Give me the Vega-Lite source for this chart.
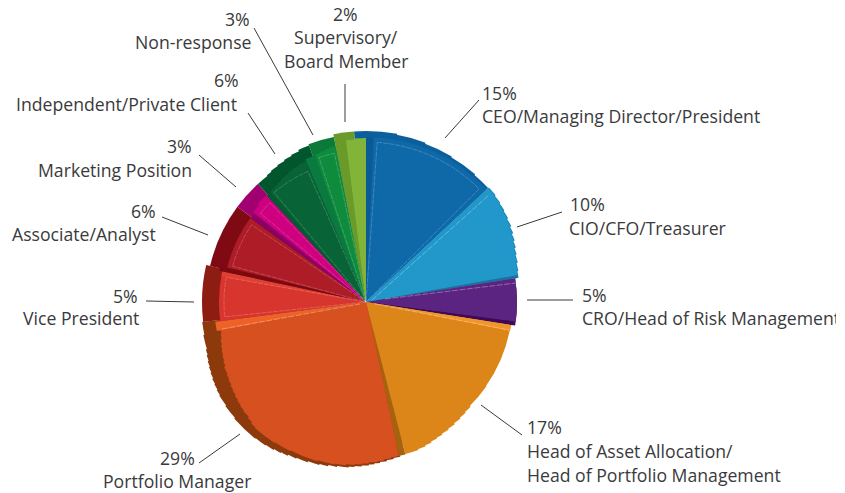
{
"$schema":"https://vega.github.io/schema/vega-lite/v6.json",
"width":836,"height":493,"padding":0,"autosize":{"type":"none"},"background":"white",
"config":{"view":{"stroke":null}},
"layer":[
{"data":{"values":[
{"part":"CEO back","start":356,"end":360,"r":171},
{"part":"CEO back","start":0,"end":10.5,"r":171},
{"part":"CEO back","start":10,"end":20.5,"r":170},
{"part":"CEO back","start":20,"end":30.5,"r":169},
{"part":"CEO back","start":30,"end":40.5,"r":168},
{"part":"CEO back","start":40,"end":47,"r":167},
{"part":"CIO back","start":47,"end":50.5,"r":168},
{"part":"CIO back","start":50,"end":53.5,"r":167},
{"part":"CIO back","start":53,"end":56.5,"r":166},
{"part":"CIO back","start":56,"end":59.5,"r":165},
{"part":"CIO back","start":59,"end":62.5,"r":163.8},
{"part":"CIO back","start":62,"end":65,"r":162.5},
{"part":"CIO back","start":64.5,"end":67.5,"r":161},
{"part":"CIO back","start":67,"end":70,"r":159.5},
{"part":"CIO back","start":69.5,"end":72.5,"r":158},
{"part":"CIO back","start":72,"end":75.5,"r":156.8},
{"part":"CIO back","start":75,"end":78.5,"r":155.5},
{"part":"CIO back","start":78,"end":81,"r":154.5},
{"part":"CRO side","start":81,"end":99,"r":151},
{"part":"Asset back","start":99,"end":168,"r":146},
{"part":"PM back","start":167.5,"end":170.5,"r":158.5},
{"part":"PM back","start":170,"end":173,"r":159.5},
{"part":"PM back","start":172.5,"end":175.5,"r":160.5},
{"part":"PM back","start":175,"end":177.5,"r":161.5},
{"part":"PM back","start":177,"end":179.5,"r":162.5},
{"part":"PM back","start":179,"end":182,"r":163.5},
{"part":"PM back","start":181.5,"end":184.5,"r":164.5},
{"part":"PM back","start":184,"end":186.5,"r":165.5},
{"part":"PM back","start":186,"end":190.5,"r":166.5},
{"part":"PM back","start":190,"end":193.5,"r":167.5},
{"part":"PM back","start":193,"end":196.5,"r":168.5},
{"part":"PM back","start":196,"end":200.5,"r":169.5},
{"part":"PM back","start":200,"end":204.5,"r":170.5},
{"part":"PM back","start":204,"end":207.5,"r":171.5},
{"part":"PM back","start":207,"end":210,"r":172.5},
{"part":"PM back","start":209.5,"end":212.5,"r":173.5},
{"part":"PM back","start":212,"end":215.5,"r":174.5},
{"part":"PM back","start":215,"end":219.5,"r":175.2},
{"part":"PM back","start":219,"end":228.5,"r":176},
{"part":"PM back","start":228,"end":233.5,"r":175},
{"part":"PM back","start":233,"end":237.5,"r":174},
{"part":"PM back","start":237,"end":239.5,"r":173.2},
{"part":"PM back","start":239,"end":241.5,"r":172.5},
{"part":"PM back","start":241,"end":243.5,"r":171.8},
{"part":"PM back","start":243,"end":245.5,"r":170.9},
{"part":"PM back","start":245,"end":247.5,"r":170},
{"part":"PM back","start":247,"end":249.5,"r":169},
{"part":"PM back","start":249,"end":251.5,"r":168},
{"part":"PM back","start":251,"end":253.5,"r":167},
{"part":"PM back","start":253,"end":258.5,"r":166},
{"part":"PM back","start":258,"end":263,"r":165},
{"part":"VP back","start":263,"end":283,"r":164},
{"part":"Analyst back","start":283,"end":306.5,"r":160},
{"part":"Marketing back","start":306.5,"end":317.5,"r":160},
{"part":"Indep back","start":317.5,"end":322.5,"r":160},
{"part":"Indep back","start":322,"end":324.5,"r":161},
{"part":"Indep back","start":324,"end":327.5,"r":162},
{"part":"Indep back","start":327,"end":330.5,"r":163},
{"part":"Indep back","start":330,"end":333.5,"r":164},
{"part":"Indep back","start":333,"end":336.5,"r":165},
{"part":"Indep back","start":336,"end":340,"r":166.5},
{"part":"Non back","start":340,"end":349,"r":168},
{"part":"Super back","start":349,"end":356,"r":171},
{"part":"CEO side","start":0,"end":2.7,"r":165},
{"part":"CEO face","start":2.7,"end":47,"r":165},
{"part":"CIO face","start":47,"end":50.5,"r":167},
{"part":"CIO face","start":50,"end":53.5,"r":166},
{"part":"CIO face","start":53,"end":56.5,"r":165},
{"part":"CIO face","start":56,"end":59.5,"r":164},
{"part":"CIO face","start":59,"end":62.5,"r":162.8},
{"part":"CIO face","start":62,"end":65,"r":161.5},
{"part":"CIO face","start":64.5,"end":67.5,"r":160},
{"part":"CIO face","start":67,"end":70,"r":158.5},
{"part":"CIO face","start":69.5,"end":72.5,"r":157},
{"part":"CIO face","start":72,"end":75.5,"r":155.8},
{"part":"CIO face","start":75,"end":78.5,"r":154.5},
{"part":"CIO face","start":78,"end":80,"r":153.5},
{"part":"CIO face","start":47,"end":80,"r":150},
{"part":"CIO side","start":80,"end":81,"r":153.5},
{"part":"CRO face","start":81,"end":97.5,"r":151},
{"part":"CRO side","start":97.5,"end":99,"r":148},
{"part":"Asset top","start":99,"end":101.5,"r":147},
{"part":"Asset face","start":101.5,"end":125.5,"r":146.5},
{"part":"Asset face","start":125,"end":135.5,"r":147},
{"part":"Asset face","start":135,"end":138.5,"r":148},
{"part":"Asset face","start":138,"end":141.5,"r":149},
{"part":"Asset face","start":141,"end":144.5,"r":150},
{"part":"Asset face","start":144,"end":147.5,"r":151},
{"part":"Asset face","start":147,"end":150.5,"r":152},
{"part":"Asset face","start":150,"end":153,"r":153},
{"part":"Asset face","start":152.5,"end":155.5,"r":154},
{"part":"Asset face","start":155,"end":158,"r":155},
{"part":"Asset face","start":157.5,"end":161,"r":156},
{"part":"Asset face","start":160.5,"end":165.5,"r":157},
{"part":"Asset face","start":101.5,"end":165.5,"r":145},
{"part":"Asset side","start":165.5,"end":168,"r":157.5},
{"part":"PM face","start":168,"end":171.5,"r":157.5},
{"part":"PM face","start":171,"end":174,"r":158.5},
{"part":"PM face","start":173.5,"end":176.5,"r":159.5},
{"part":"PM face","start":176,"end":179.5,"r":160.5},
{"part":"PM face","start":179,"end":182,"r":161.5},
{"part":"PM face","start":181.5,"end":184.5,"r":162.5},
{"part":"PM face","start":184,"end":187.5,"r":163.5},
{"part":"PM face","start":187,"end":191.5,"r":164.5},
{"part":"PM face","start":191,"end":197.5,"r":165.5},
{"part":"PM face","start":197,"end":207.5,"r":166.5},
{"part":"PM face","start":207,"end":213.5,"r":167.3},
{"part":"PM face","start":213,"end":221.5,"r":168},
{"part":"PM face","start":221,"end":223.5,"r":167},
{"part":"PM face","start":223,"end":225.5,"r":165.5},
{"part":"PM face","start":225,"end":228.5,"r":164},
{"part":"PM face","start":228,"end":230.5,"r":163.2},
{"part":"PM face","start":230,"end":232.5,"r":162.2},
{"part":"PM face","start":232,"end":234.5,"r":161.2},
{"part":"PM face","start":234,"end":236.5,"r":160.1},
{"part":"PM face","start":236,"end":238.5,"r":159.1},
{"part":"PM face","start":238,"end":240.5,"r":158},
{"part":"PM face","start":240,"end":242.5,"r":157},
{"part":"PM face","start":242,"end":245.5,"r":156},
{"part":"PM face","start":245,"end":247.5,"r":154.5},
{"part":"PM face","start":247,"end":249.5,"r":153.4},
{"part":"PM face","start":249,"end":251.5,"r":152.4},
{"part":"PM face","start":251,"end":253.5,"r":151.3},
{"part":"PM face","start":253,"end":255.5,"r":150.2},
{"part":"PM face","start":255,"end":257.5,"r":149},
{"part":"PM face","start":257,"end":259.5,"r":148},
{"part":"PM face","start":168,"end":259.5,"r":146},
{"part":"PM top","start":259,"end":262.5,"r":152},
{"part":"VP face","start":262.5,"end":282,"r":147},
{"part":"VP top","start":280,"end":282,"r":147},
{"part":"Analyst side","start":282,"end":284,"r":150},
{"part":"Analyst face","start":284,"end":306,"r":143},
{"part":"Marketing side","start":306,"end":308.5,"r":142},
{"part":"Marketing face","start":308.5,"end":312.5,"r":144},
{"part":"Marketing face","start":312,"end":317,"r":146},
{"part":"Indep side","start":317,"end":319,"r":145},
{"part":"Indep face","start":319,"end":321.5,"r":146},
{"part":"Indep face","start":321,"end":323.5,"r":147},
{"part":"Indep face","start":323,"end":325.5,"r":148},
{"part":"Indep face","start":325,"end":327.5,"r":149},
{"part":"Indep face","start":327,"end":329.5,"r":150},
{"part":"Indep face","start":329,"end":331.5,"r":151},
{"part":"Indep face","start":331,"end":334,"r":152},
{"part":"Indep face","start":333.5,"end":337,"r":153},
{"part":"Indep face","start":319,"end":337,"r":144},
{"part":"Non side","start":337,"end":341,"r":155},
{"part":"Non face","start":341,"end":343.5,"r":156},
{"part":"Non face","start":343,"end":345.5,"r":157},
{"part":"Non face","start":345,"end":347.5,"r":158},
{"part":"Non face","start":347,"end":349,"r":159},
{"part":"Non face","start":341,"end":349,"r":155},
{"part":"Super side","start":349,"end":353,"r":161},
{"part":"Super face","start":353,"end":356.5,"r":163},
{"part":"Super face","start":356,"end":360,"r":164},
{"part":"Super face","start":353,"end":360,"r":160}
]},
"mark":{"type":"arc"},
"encoding":{
"x":{"datum":366,"type":"quantitative","scale":{"domain":[0,836],"range":[0,836],"nice":false,"zero":false},"axis":null},
"y":{"datum":302,"type":"quantitative","scale":{"domain":[0,493],"range":[0,493],"nice":false,"zero":false},"axis":null},
"theta":{"field":"start","type":"quantitative","stack":null,"scale":{"domain":[0,360],"range":[0,6.28319]}},
"theta2":{"field":"end"},
"radius":{"field":"r","type":"quantitative","scale":{"type":"linear","domain":[0,200],"range":[0,200],"nice":false}},
"fill":{"field":"part","type":"nominal","legend":null,"scale":{"domain":["CEO back","CEO side","CEO face","CIO back","CIO face","CIO side","CRO face","CRO side","Asset back","Asset top","Asset face","Asset side","PM back","PM face","PM top","VP back","VP face","VP top","Analyst back","Analyst side","Analyst face","Marketing back","Marketing side","Marketing face","Indep back","Indep side","Indep face","Non back","Non side","Non face","Super back","Super side","Super face"],
"range":["#0b5f9c","#0a5a96","#0f69a8","#1a86b8","#2197ca","#1c6f9e","#5b2480","#3e0a55","#dc8619","#f2952a","#dc8619","#a5620f","#8c3a0c","#d6511f","#ee6127","#8d1c13","#d7352d","#e23f33","#800a14","#7a0a12","#ae1c27","#a10070","#8b0066","#cf007f","#02562d","#045a30","#086336","#0b7a38","#0a7a3f","#0f8b3e","#6a9a2a","#6a9a2a","#82b43a"]}}
}},
{"data":{"values":[
{"start":4,"end":45,"r":160},
{"start":264,"end":280,"r":142},
{"start":285,"end":304,"r":138},
{"start":310,"end":316,"r":138},
{"start":320,"end":336,"r":143},
{"start":342,"end":348,"r":152}
]},
"mark":{"type":"arc","filled":false,"stroke":"#ffffff","strokeOpacity":0.25,"strokeWidth":0.8,"strokeDash":[5,1]},
"encoding":{
"x":{"datum":366,"type":"quantitative","axis":null},
"y":{"datum":302,"type":"quantitative","axis":null},
"theta":{"field":"start","type":"quantitative","stack":null,"scale":{"domain":[0,360],"range":[0,6.28319]}},
"theta2":{"field":"end"},
"radius":{"field":"r","type":"quantitative","scale":{"type":"linear","domain":[0,200],"range":[0,200],"nice":false}}
}},
{"data":{"values":[
{"x1":222,"y1":329,"x2":360,"y2":304},
{"x1":375,"y1":304,"x2":509,"y2":330},
{"x1":385,"y1":299,"x2":516,"y2":283},
{"x1":372,"y1":300,"x2":489,"y2":195}
]},
"mark":{"type":"rule","stroke":"#ffffff","strokeOpacity":0.4,"strokeWidth":0.8,"strokeDash":[6,1.5]},
"encoding":{
"x":{"field":"x1","type":"quantitative","axis":null},
"y":{"field":"y1","type":"quantitative","axis":null},
"x2":{"field":"x2"},"y2":{"field":"y2"}
}},
{"data":{"values":[
{"x1":254,"y1":28,"x2":313,"y2":135},
{"x1":345,"y1":84,"x2":345,"y2":122},
{"x1":479,"y1":100,"x2":445,"y2":138},
{"x1":562,"y1":212,"x2":517,"y2":227},
{"x1":573,"y1":300,"x2":527,"y2":300},
{"x1":522,"y1":435,"x2":481,"y2":405},
{"x1":199,"y1":463,"x2":240,"y2":434},
{"x1":146,"y1":301,"x2":194,"y2":302},
{"x1":162,"y1":217,"x2":208,"y2":235},
{"x1":199,"y1":155,"x2":236,"y2":187},
{"x1":248,"y1":113,"x2":275,"y2":154}
]},
"mark":{"type":"rule","stroke":"#3a3a3c","strokeWidth":1},
"encoding":{
"x":{"field":"x1","type":"quantitative","axis":null},
"y":{"field":"y1","type":"quantitative","axis":null},
"x2":{"field":"x2"},"y2":{"field":"y2"}
}},
{"data":{"values":[
{"t":"3%","x":225,"y":20},
{"t":"Non-response","x":135,"y":43},
{"t":"2%","x":333,"y":15},
{"t":"Supervisory/","x":294,"y":38},
{"t":"Board Member","x":284,"y":62},
{"t":"15%","x":482,"y":94},
{"t":"CEO/Managing Director/President","x":482,"y":117},
{"t":"10%","x":570,"y":205},
{"t":"CIO/CFO/Treasurer","x":569,"y":229},
{"t":"5%","x":582,"y":296},
{"t":"CRO/Head of Risk Management","x":582,"y":319},
{"t":"17%","x":527,"y":428},
{"t":"Head of Asset Allocation/","x":527,"y":452},
{"t":"Head of Portfolio Management","x":527,"y":476},
{"t":"29%","x":160,"y":459},
{"t":"Portfolio Manager","x":103,"y":482},
{"t":"5%","x":113,"y":297},
{"t":"Vice President","x":23,"y":319},
{"t":"6%","x":131,"y":212},
{"t":"Associate/Analyst","x":12,"y":235},
{"t":"3%","x":167,"y":147},
{"t":"Marketing Position","x":38,"y":171},
{"t":"6%","x":214,"y":81},
{"t":"Independent/Private Client","x":16,"y":105}
]},
"mark":{"type":"text","align":"left","baseline":"middle","font":"Open Sans","fontSize":17.65,"fill":"#3a3a3c","clip":true,"dy":1},
"encoding":{
"x":{"field":"x","type":"quantitative","axis":null},
"y":{"field":"y","type":"quantitative","axis":null},
"text":{"field":"t"}
}}
]
}
